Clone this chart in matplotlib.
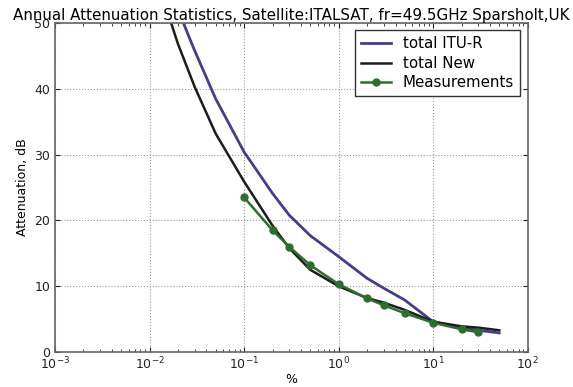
import matplotlib
matplotlib.use("Agg")
import matplotlib.pyplot as plt

# percent of time exceeded
pct = [0.01, 0.02, 0.03, 0.05, 0.1, 0.2, 0.3, 0.5, 1, 2, 3, 5, 10, 20, 30, 50]
itu_r = [65, 52, 45.8, 38.5, 30.4, 24.1, 20.8, 17.7, 14.5, 11.2, 9.7, 7.9, 4.6, 3.7, 3.3, 2.9]
new = [60, 46.8, 40.3, 33.2, 25.9, 19.2, 15.8, 12.5, 10.0, 8.2, 7.5, 6.4, 4.6, 3.9, 3.7, 3.3]

meas_pct = [0.1, 0.2, 0.3, 0.5, 1, 2, 3, 5, 10, 20, 30]
meas = [23.5, 18.5, 16.0, 13.2, 10.3, 8.15, 7.1, 5.9, 4.45, 3.45, 3.0]

fig = plt.figure(figsize=(5.73, 3.87), dpi=100)
ax = fig.add_axes([0.096, 0.0904, 0.825, 0.8502])

ax.semilogx(pct, itu_r, color="#453d8c", lw=2, label="total ITU-R")
ax.semilogx(pct, new, color="#1c1c1c", lw=1.8, label="total New")
ax.semilogx(meas_pct, meas, color="#2d6e2d", lw=1.8, marker="o", ms=5,
            label="Measurements")

ax.set_xlim(1e-3, 1e2)
ax.set_ylim(0, 50)
ax.set_yticks([0, 10, 20, 30, 40, 50])
ax.grid(True, which="major", ls=":", color="#999999", lw=0.8)
ax.tick_params(which="both", direction="in", top=True, right=True,
               labelsize=9, colors="#222222")
ax.tick_params(axis="x", pad=3)
for s in ax.spines.values():
    s.set_color("#666666")
    s.set_linewidth(1.2)

ax.set_xlabel("%", fontsize=9, labelpad=0)
ax.set_ylabel("Attenuation, dB", fontsize=9)
ax.set_title("Annual Attenuation Statistics, Satellite:ITALSAT, fr=49.5GHz Sparsholt,UK",
             fontsize=10.9, pad=1)

leg = ax.legend(loc="upper right", fontsize=10.8, fancybox=False,
                edgecolor="#333333", framealpha=1, labelspacing=0.3,
                borderaxespad=0.5)
leg.get_frame().set_linewidth(1.0)

fig.savefig("out.png", dpi=100)
